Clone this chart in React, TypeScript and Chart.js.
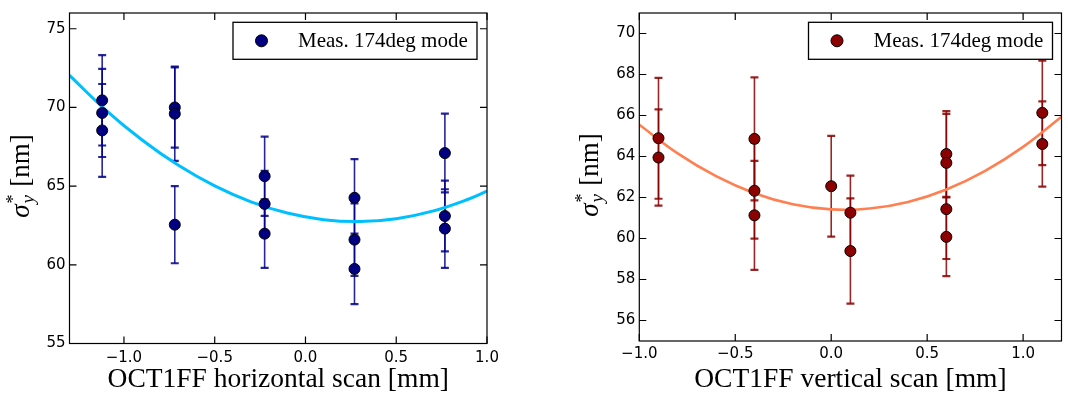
import React, { useEffect, useRef } from "react";
import { Chart, registerables } from "chart.js";
Chart.register(...registerables);

// ---- Left panel: horizontal scan ----
const hX = [-1.12, -1.12, -1.12, -0.72, -0.72, -0.72, -0.225, -0.225, -0.225, 0.27, 0.27, 0.27, 0.768, 0.768, 0.768];
const hY = [70.45, 69.65, 68.54, 70.0, 69.6, 62.55, 65.63, 63.87, 61.98, 64.26, 61.6, 59.74, 67.1, 63.1, 62.3];
const hErr = [2.87, 2.8, 2.95, 2.55, 3.0, 2.45, 2.52, 2.1, 2.18, 2.46, 2.3, 2.24, 2.5, 2.25, 2.5];
const hFitX = [-1.3, -1.1, -0.9, -0.7, -0.5, -0.3, -0.1, 0.1, 0.3, 0.5, 0.7, 0.9, 1.0];
const hFitY = [72.04, 69.83, 67.93, 66.32, 65.01, 64.0, 63.29, 62.87, 62.75, 62.93, 63.41, 64.18, 64.68];
const hXTicks = [-1.0, -0.5, 0.0, 0.5, 1.0];
const hYTicks = [55, 60, 65, 70, 75];

// ---- Right panel: vertical scan ----
const vX = [-0.9, -0.9, -0.4, -0.4, -0.4, 0.0, 0.1, 0.1, 0.6, 0.6, 0.6, 0.6, 1.1, 1.1];
const vY = [64.89, 63.95, 64.86, 62.33, 61.13, 62.55, 61.26, 59.39, 64.12, 63.69, 61.43, 60.08, 66.13, 64.61];
const vErr = [2.95, 2.35, 3.0, 2.34, 2.66, 2.46, 1.81, 2.57, 2.09, 2.39, 2.43, 1.92, 2.55, 2.08];
const vFitX = [-1.0, -0.8, -0.6, -0.4, -0.2, 0.0, 0.2, 0.4, 0.6, 0.8, 1.0, 1.2];
const vFitY = [65.55, 64.15, 63.04, 62.21, 61.67, 61.42, 61.46, 61.78, 62.39, 63.29, 64.47, 65.94];
const vXTicks = [-1.0, -0.5, 0.0, 0.5, 1.0];
const vYTicks = [56, 58, 60, 62, 64, 66, 68, 70];

const legendLabel = "Meas. 174deg mode";
const hXTitle = "OCT1FF horizontal scan [mm]";
const vXTitle = "OCT1FF vertical scan [mm]";

const SERIF = '"Liberation Serif", "Times New Roman", serif';
const SANS = '"DejaVu Sans", sans-serif';

type PanelCfg = {
  xs: number[]; ys: number[]; errs: number[];
  fitX: number[]; fitY: number[];
  xTicks: number[]; yTicks: number[];
  xMin: number; xMax: number; yMin: number; yMax: number;
  xDec: number; yDec: number;
  xTitle: string;
  pointColor: string; errColor: string; fitColor: string; fitWidth: number;
  yScaleWidth: number; xScaleHeight: number; padRight: number; padTop: number;
  yTitleX: number; yTitleY: number;
  legendRightGap: number; xTickPad: number;
};

const fmt = (v: number, d: number) => v.toFixed(d).replace("-", "\u2212");

function makeChart(canvas: HTMLCanvasElement, c: PanelCfg) {
  const errorBars = {
    id: "errorBars",
    beforeDatasetsDraw(chart: any) {
      const { ctx, scales } = chart;
      const xs = scales.x, ys = scales.y;
      ctx.save();
      ctx.strokeStyle = c.errColor;
      for (let i = 0; i < c.xs.length; i++) {
        const px = xs.getPixelForValue(c.xs[i]);
        const top = ys.getPixelForValue(c.ys[i] + c.errs[i]);
        const bot = ys.getPixelForValue(c.ys[i] - c.errs[i]);
        ctx.lineWidth = 1.6;
        ctx.beginPath();
        ctx.moveTo(px, top);
        ctx.lineTo(px, bot);
        ctx.stroke();
        ctx.lineWidth = 2.2;
        ctx.beginPath();
        ctx.moveTo(px - 4, top);
        ctx.lineTo(px + 4, top);
        ctx.moveTo(px - 4, bot);
        ctx.lineTo(px + 4, bot);
        ctx.stroke();
      }
      ctx.restore();
    },
  };

  const frame = {
    id: "frame",
    afterDraw(chart: any) {
      const { ctx, chartArea: a, scales } = chart;
      ctx.save();
      ctx.strokeStyle = "#000";
      ctx.lineWidth = 1.2;
      ctx.strokeRect(a.left, a.top, a.right - a.left, a.bottom - a.top);
      const L = 7;
      ctx.beginPath();
      for (const v of c.xTicks) {
        const px = scales.x.getPixelForValue(v);
        ctx.moveTo(px, a.bottom);
        ctx.lineTo(px, a.bottom - L);
        ctx.moveTo(px, a.top);
        ctx.lineTo(px, a.top + L);
      }
      for (const v of c.yTicks) {
        const py = scales.y.getPixelForValue(v);
        ctx.moveTo(a.left, py);
        ctx.lineTo(a.left + L, py);
        ctx.moveTo(a.right, py);
        ctx.lineTo(a.right - L, py);
      }
      ctx.stroke();

      // legend
      const bw = 244, bh = 37;
      const bx = a.right - c.legendRightGap - bw;
      const by = a.top + 9.3;
      ctx.fillStyle = "#fff";
      ctx.fillRect(bx, by, bw, bh);
      ctx.lineWidth = 1.3;
      ctx.strokeRect(bx, by, bw, bh);
      const my = by + bh / 2;
      ctx.beginPath();
      ctx.arc(bx + 28.5, my, 6, 0, Math.PI * 2);
      ctx.fillStyle = c.pointColor;
      ctx.fill();
      ctx.lineWidth = 1;
      ctx.strokeStyle = "#000";
      ctx.stroke();
      ctx.fillStyle = "#000";
      ctx.font = `21px ${SERIF}`;
      ctx.textBaseline = "middle";
      ctx.textAlign = "left";
      ctx.fillText(legendLabel, bx + 65, my + 1);

      // y-axis title  sigma^*_y [nm]
      ctx.save();
      ctx.translate(c.yTitleX, c.yTitleY);
      ctx.rotate(-Math.PI / 2);
      ctx.textBaseline = "alphabetic";
      ctx.textAlign = "left";
      const fSig = `italic 27px ${SERIF}`;
      const fStar = `18px ${SERIF}`;
      const fSub = `italic 19px ${SERIF}`;
      const fRest = `27px ${SERIF}`;
      ctx.font = fSig; const wSig = ctx.measureText("\u03c3").width;
      ctx.font = fStar; const wStar = ctx.measureText("*").width;
      ctx.font = fSub; const wSub = ctx.measureText("y").width;
      ctx.font = fRest; const wRest = ctx.measureText(" [nm]").width;
      const wScr = Math.max(wStar, wSub) + 2;
      const total = wSig + wScr + wRest;
      let x = -total / 2;
      const base = 8;
      ctx.font = fSig; ctx.fillText("\u03c3", x, base); x += wSig + 1;
      ctx.font = fStar; ctx.fillText("*", x, base - 10);
      ctx.font = fSub; ctx.fillText("y", x, base + 5);
      x += wScr - 1;
      ctx.font = fRest; ctx.fillText(" [nm]", x, base);
      ctx.restore();

      ctx.restore();
    },
  };

  return new Chart(canvas, {
    type: "scatter",
    data: {
      datasets: [
        {
          type: "scatter",
          label: legendLabel,
          data: c.xs.map((x, i) => ({ x, y: c.ys[i] })),
          pointRadius: 5.5,
          pointHoverRadius: 5.5,
          backgroundColor: c.pointColor,
          borderColor: "#000",
          borderWidth: 1,
        },
        {
          type: "line",
          label: "fit",
          data: c.fitX.map((x, i) => ({ x, y: c.fitY[i] })),
          borderColor: c.fitColor,
          borderWidth: c.fitWidth,
          pointRadius: 0,
          tension: 0.4,
          fill: false,
        } as any,
      ],
    },
    options: {
      responsive: false,
      animation: false,
      devicePixelRatio: 1,
      layout: { padding: { left: 0, right: c.padRight, top: c.padTop, bottom: 0 } },
      plugins: { legend: { display: false }, tooltip: { enabled: false } },
      scales: {
        x: {
          type: "linear",
          min: c.xMin,
          max: c.xMax,
          afterBuildTicks: (s: any) => { s.ticks = c.xTicks.map((v) => ({ value: v })); },
          afterFit: (s: any) => { s.height = c.xScaleHeight; },
          grid: { display: false, drawTicks: false },
          border: { display: false },
          ticks: {
            padding: c.xTickPad,
            color: "#000",
            font: { family: SANS, size: 15 },
            maxRotation: 0,
            autoSkip: false,
            callback: (v: any) => fmt(Number(v), c.xDec),
          },
          title: {
            display: true,
            text: c.xTitle,
            color: "#000",
            font: { family: SERIF, size: 27.5 },
            padding: { top: 0, bottom: 5 },
          },
        },
        y: {
          type: "linear",
          min: c.yMin,
          max: c.yMax,
          afterBuildTicks: (s: any) => { s.ticks = c.yTicks.map((v) => ({ value: v })); },
          afterFit: (s: any) => { s.width = c.yScaleWidth; },
          grid: { display: false, drawTicks: false },
          border: { display: false },
          ticks: {
            padding: 4,
            color: "#000",
            font: { family: SANS, size: 15 },
            autoSkip: false,
            callback: (v: any) => fmt(Number(v), c.yDec),
          },
        },
      },
    },
    plugins: [errorBars, frame],
  } as any);
}

const leftCfg: PanelCfg = {
  xs: hX, ys: hY, errs: hErr, fitX: hFitX, fitY: hFitY,
  xTicks: hXTicks, yTicks: hYTicks,
  xMin: -1.3, xMax: 1.0, yMin: 55, yMax: 76,
  xDec: 1, yDec: 0, xTitle: hXTitle,
  pointColor: "#000080", errColor: "rgba(0,0,139,0.85)", fitColor: "#00BFFF", fitWidth: 3,
  yScaleWidth: 69.5, xScaleHeight: 57.5, padRight: 47, padTop: 3,
  yTitleX: 20.5, yTitleY: 176, legendRightGap: 10, xTickPad: 5.5,
};

const rightCfg: PanelCfg = {
  xs: vX, ys: vY, errs: vErr, fitX: vFitX, fitY: vFitY,
  xTicks: vXTicks, yTicks: vYTicks,
  xMin: -1.0, xMax: 1.2, yMin: 55, yMax: 71,
  xDec: 1, yDec: 0, xTitle: vXTitle,
  pointColor: "#8B0000", errColor: "rgba(139,0,0,0.85)", fitColor: "#FF7F50", fitWidth: 2.6,
  yScaleWidth: 105.3, xScaleHeight: 60, padRight: 1.3, padTop: 3,
  yTitleX: 56, yTitleY: 175, legendRightGap: 9, xTickPad: 4.5,
};

export default function App() {
  const leftRef = useRef<HTMLCanvasElement>(null);
  const rightRef = useRef<HTMLCanvasElement>(null);
  useEffect(() => {
    const a = makeChart(leftRef.current!, leftCfg);
    const b = makeChart(rightRef.current!, rightCfg);
    return () => { a.destroy(); b.destroy(); };
  }, []);
  return (
    <div style={{ position: "fixed", left: 0, top: 0, width: 1068, height: 401, background: "#fff" }}>
      <canvas ref={leftRef} width={534} height={401}
        style={{ position: "absolute", left: 0, top: 0, width: 534, height: 401 }} />
      <canvas ref={rightRef} width={534} height={401}
        style={{ position: "absolute", left: 534, top: 0, width: 534, height: 401 }} />
    </div>
  );
}
